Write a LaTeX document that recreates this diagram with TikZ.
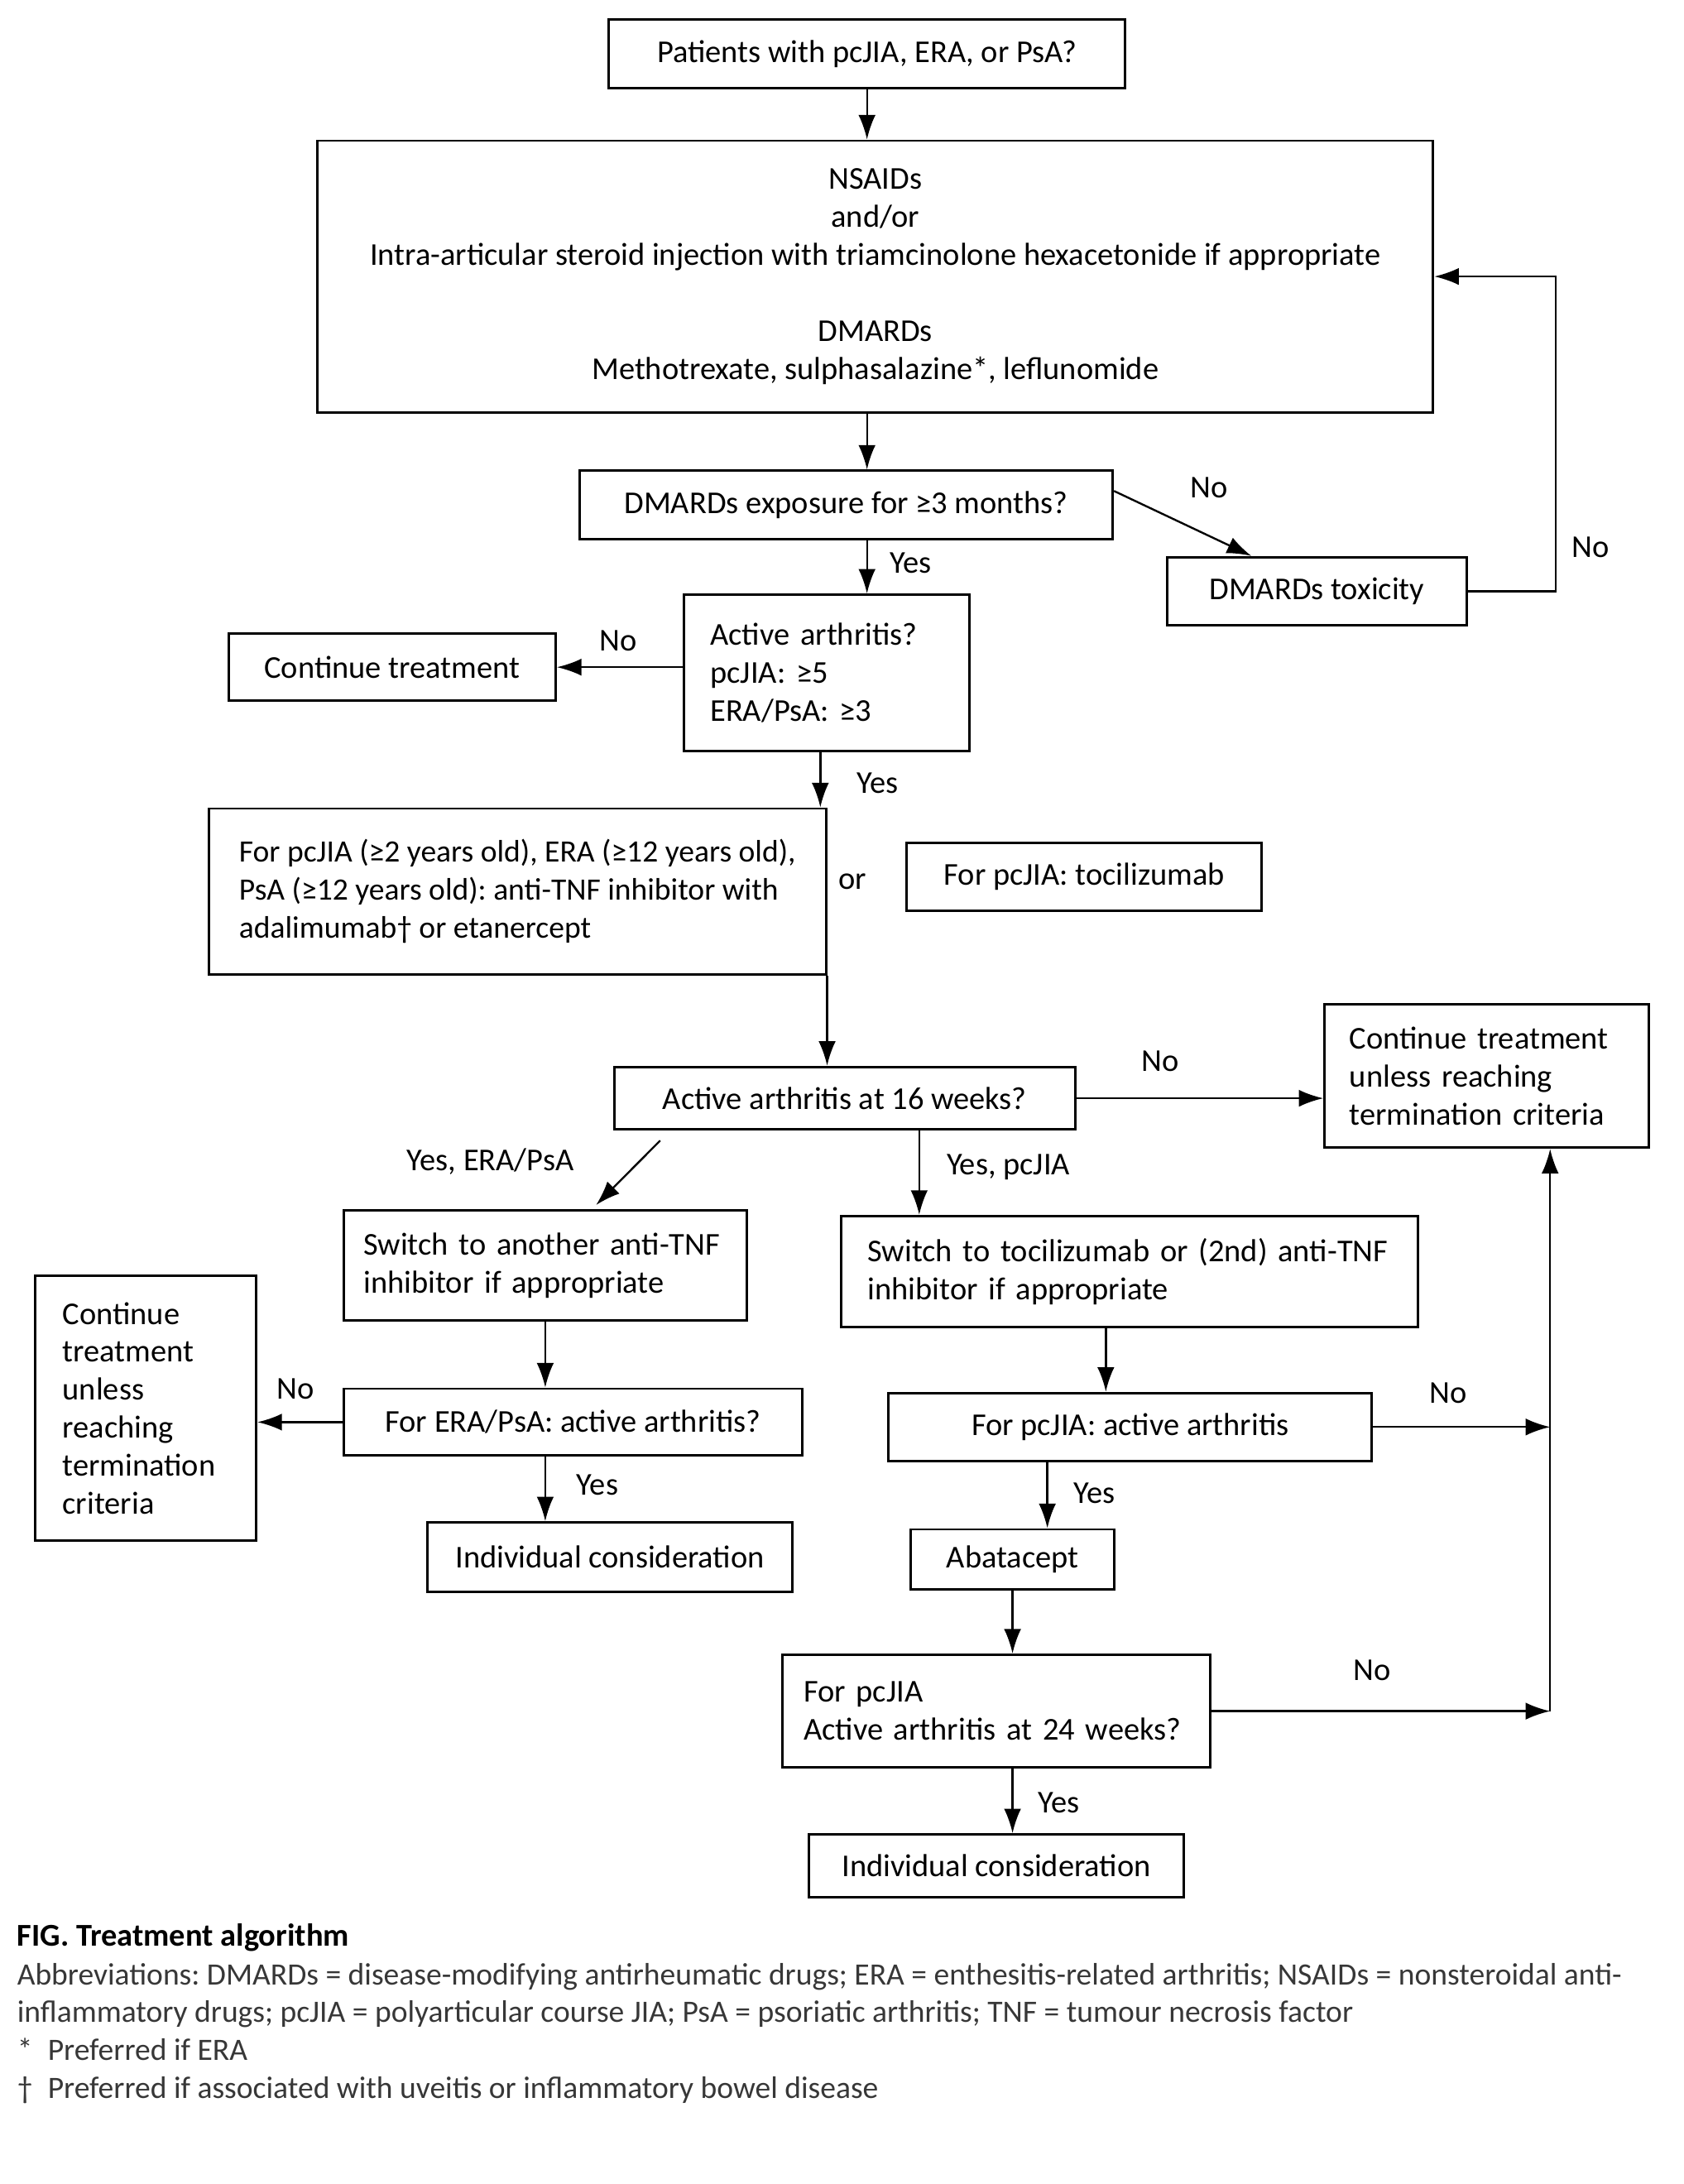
\documentclass[tikz,border=0pt]{standalone}
\usepackage{fontspec}
\setmainfont{Carlito}
\usetikzlibrary{arrows.meta,calc}
\definecolor{cgrey}{RGB}{55,55,55}
\tikzset{
  flow/.style={x=0.02cm,y=-0.02cm,font=\fontsize{13}{15.5}\selectfont\frenchspacing,>={Latex[length=10pt,width=7pt]}},
  box/.style={draw,line width=1pt,inner sep=0pt,align=center},
  lbox/.style={box,align=left},
  sz/.style 2 args={minimum width=#1*0.02cm,minimum height=#2*0.02cm},
  tw/.style={text width=#1*0.02cm},
  lbl/.style={inner sep=0pt},
  conn/.style={->,line width=0.8pt},
}

\begin{document}
\begin{tikzpicture}[flow]
    \useasboundingbox (0,0) rectangle (1209,1568);
    % boxes
    \node[box,sz={371}{49}] (start) at (622.5,38.5) {Patients with pcJIA, ERA, or PsA?};
    \node[box,sz={801}{195}] (nsaid) at (628.5,198.5)
      {NSAIDs\\and/or\\Intra-articular steroid injection with triamcinolone hexacetonide if appropriate\\[15.5pt]
       DMARDs\\Methotrexate, sulphasalazine*, leflunomide};
    \node[box,sz={383}{49}] (expo) at (607.5,362.5) {DMARDs exposure for ≥3 months?};
    \node[box,sz={215}{49}] (tox) at (945.5,424.5) {DMARDs toxicity};
    \node[lbox,sz={205}{112},tw=167] (active) at (593.5,483) {Active arthritis?\\pcJIA: ≥5\\ERA/PsA: ≥3};
    \node[box,sz={235}{48}] (cont) at (281.5,479) {Continue treatment};
    \node[lbox,sz={443}{119},font=\fontsize{12.7}{15.5}\selectfont\frenchspacing] (tnf) at (371.5,640)
      {For pcJIA (≥2 years old), ERA (≥12 years old),\\PsA (≥12 years old): anti-TNF inhibitor with\\adalimumab† or etanercept};
    \node[box,sz={255}{49}] (toci) at (778.5,629.5) {For pcJIA: tocilizumab};
    \node[box,sz={331}{45}] (wk16) at (606.5,788.5) {Active arthritis at 16 weeks?};
    \node[lbox,sz={233}{103},tw=197] (contR) at (1067.5,772.5) {Continue treatment\\unless reaching\\termination criteria};
    \node[lbox,sz={289}{79},tw=261] (swA) at (391.5,908.5) {Switch to another anti-TNF\\inhibitor if appropriate};
    \node[lbox,sz={414}{80},tw=376] (swB) at (811,913) {Switch to tocilizumab or (2nd) anti-TNF\\inhibitor if appropriate};
    \node[box,sz={329}{48}] (eraQ) at (411.5,1021) {For ERA/PsA: active arthritis?};
    \node[lbox,sz={159}{190},tw=119] (contL) at (104.5,1011)
      {Continue\\treatment\\unless\\reaching\\termination\\criteria};
    \node[box,sz={262}{50}] (indA) at (438,1118) {Individual consideration};
    \node[box,sz={347}{49}] (pcQ) at (811.5,1024.5) {For pcJIA: active arthritis};
    \node[box,sz={146}{43}] (abat) at (727,1119.5) {Abatacept};
    \node[lbox,sz={307}{81},tw=277] (wk24) at (715.5,1228.5) {For pcJIA\\Active arthritis at 24 weeks?};
    \node[box,sz={269}{45}] (indB) at (715.5,1339.5) {Individual consideration};
    \coordinate (rail) at ($(contR.south)+(45.5,0)$);

    % connectors
    \draw[conn] (start.south) -- (start.south |- nsaid.north);
    \draw[conn] (nsaid.south -| start.south) -- (start.south |- expo.north);
    \draw[conn] ($(expo.east)+(0,-10)$) -- ($(tox.north)+(-47,0)$);
    \draw[conn] (tox.east) -- ++(63,0) |- (nsaid.east);
    \draw[conn] (expo.south -| start.south) -- (start.south |- active.north);
    \draw[conn] (active.west |- cont.east) -- (cont.east);
    \draw[conn] ($(active.south)+(-4.5,0)$) -- ($(active.south |- tnf.north)+(-4.5,0)$);
    \draw[conn] (tnf.south east) -- (tnf.south east |- wk16.north);
    \draw[conn] (wk16.east) -- (wk16.east -| contR.west);
    \draw[conn] ($(wk16.south)+(-132.5,7)$) -- ($(swA.north)+(36.5,-3)$);
    \draw[conn] ($(wk16.south)+(53.5,0)$) -- ($(wk16.south |- swB.north)+(53.5,0)$);
    \draw[conn] (swA.south) -- (swA.south |- eraQ.north);
    \draw[conn] (eraQ.west) -- (eraQ.west -| contL.east);
    \draw[conn] (eraQ.south -| swA.south) -- (swA.south |- indA.north);
    \draw[conn] ($(swB.south)+(-17,0)$) -- ($(swB.south |- pcQ.north)+(-17,0)$);
    \draw[conn] (pcQ.east) -- (pcQ.east -| rail);
    \draw[conn] ($(pcQ.south)+(-59.5,0)$) -- ($(pcQ.south |- abat.north)+(-59.5,0)$);
    \draw[conn] (abat.south) -- (abat.south |- wk24.north);
    \draw[conn] (wk24.east) -- (wk24.east -| rail);
    \draw[conn] (wk24.east -| rail) -- (rail);
    \draw[conn] (wk24.south -| abat.south) -- (abat.south |- indB.north);

    % labels
    \node[lbl] (no1) at (868,350) {No};
    \node[lbl] (no2) at (1142,393) {No};
    \node[lbl] (yes1) at (654,404) {Yes};
    \node[lbl] (no3) at (444,460) {No};
    \node[lbl] (yes2) at (630,562) {Yes};
    \node[lbl] (or) at (612,633) {or};
    \node[lbl] (no4) at (833,762) {No};
    \node[lbl] (yesera) at (352,834) {Yes, ERA/PsA};
    \node[lbl] (yespc) at (724,838) {Yes, pcJIA};
    \node[lbl] (no5) at (212,997) {No};
    \node[lbl] (yes3) at (429,1066) {Yes};
    \node[lbl] (no6) at (1040,1000) {No};
    \node[lbl] (yes4) at (786,1072) {Yes};
    \node[lbl] (no7) at (985,1199) {No};
    \node[lbl] (yes5) at (760,1294) {Yes};

    % caption
    \node[lbl,anchor=west] (cap) at (12,1391) {\bfseries FIG. Treatment algorithm};
    \node[lbl,anchor=north west,align=left,text=cgrey,font=\fontsize{12.7}{15.5}\selectfont\frenchspacing] (abbr) at (12,1409)
      {Abbreviations: DMARDs = disease-modifying antirheumatic drugs; ERA = enthesitis-related arthritis; NSAIDs = nonsteroidal anti-\\
       inflammatory drugs; pcJIA = polyarticular course JIA; PsA = psoriatic arthritis; TNF = tumour necrosis factor\\
       \makebox[0.44cm][l]{*}Preferred if ERA\\
       \makebox[0.44cm][l]{†}Preferred if associated with uveitis or inflammatory bowel disease};
\end{tikzpicture}
\end{document}
